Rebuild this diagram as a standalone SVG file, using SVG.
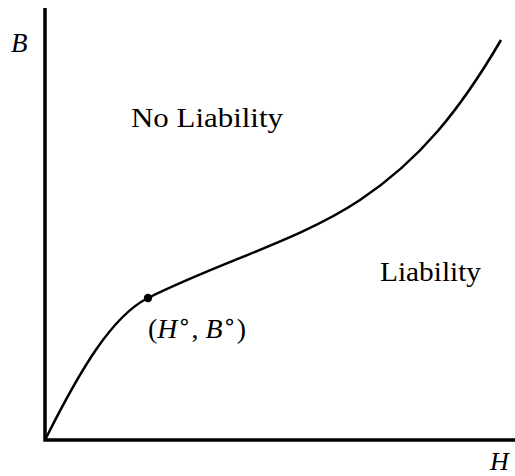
<svg xmlns="http://www.w3.org/2000/svg" width="515" height="476" viewBox="0 0 515 476">
<style>
.ax{stroke:#000;stroke-width:3.5;fill:none}
.cv{stroke:#000;stroke-width:2.5;fill:none}
.t{font-family:"Liberation Serif","Times New Roman",serif;fill:#000}
.i{font-style:italic}
.deg{font-family:"DejaVu Sans",sans-serif;font-size:22px}
</style>
<rect width="515" height="476" fill="#fff"/>
<g id="axes">
<path class="ax" d="M45,8 V440 H515"/>
</g>
<g id="connectors">
<path class="cv" d="M45,440 C80,370 112,316 148,298 C220,262 300,240 360,200 C420,160 460,110 501,40"/>
</g>
<g id="point">
<circle cx="148" cy="298" r="4.2" fill="#000"/>
</g>
<g id="labels">
<text class="t i" x="11" y="52" font-size="27">B</text>
<text class="t i" x="490" y="470" font-size="26">H</text>
<text class="t" x="131" y="127" font-size="27" textLength="152" lengthAdjust="spacingAndGlyphs">No Liability</text>
<text class="t" x="380" y="281" font-size="27" textLength="101" lengthAdjust="spacingAndGlyphs">Liability</text>
<text class="t" x="148" y="338" font-size="27" textLength="98" lengthAdjust="spacingAndGlyphs">(<tspan class="i">H</tspan><tspan class="deg" dy="-9">∘</tspan><tspan dy="9">, </tspan><tspan class="i">B</tspan><tspan class="deg" dy="-9">∘</tspan><tspan dy="9">)</tspan></text>
</g>
</svg>
